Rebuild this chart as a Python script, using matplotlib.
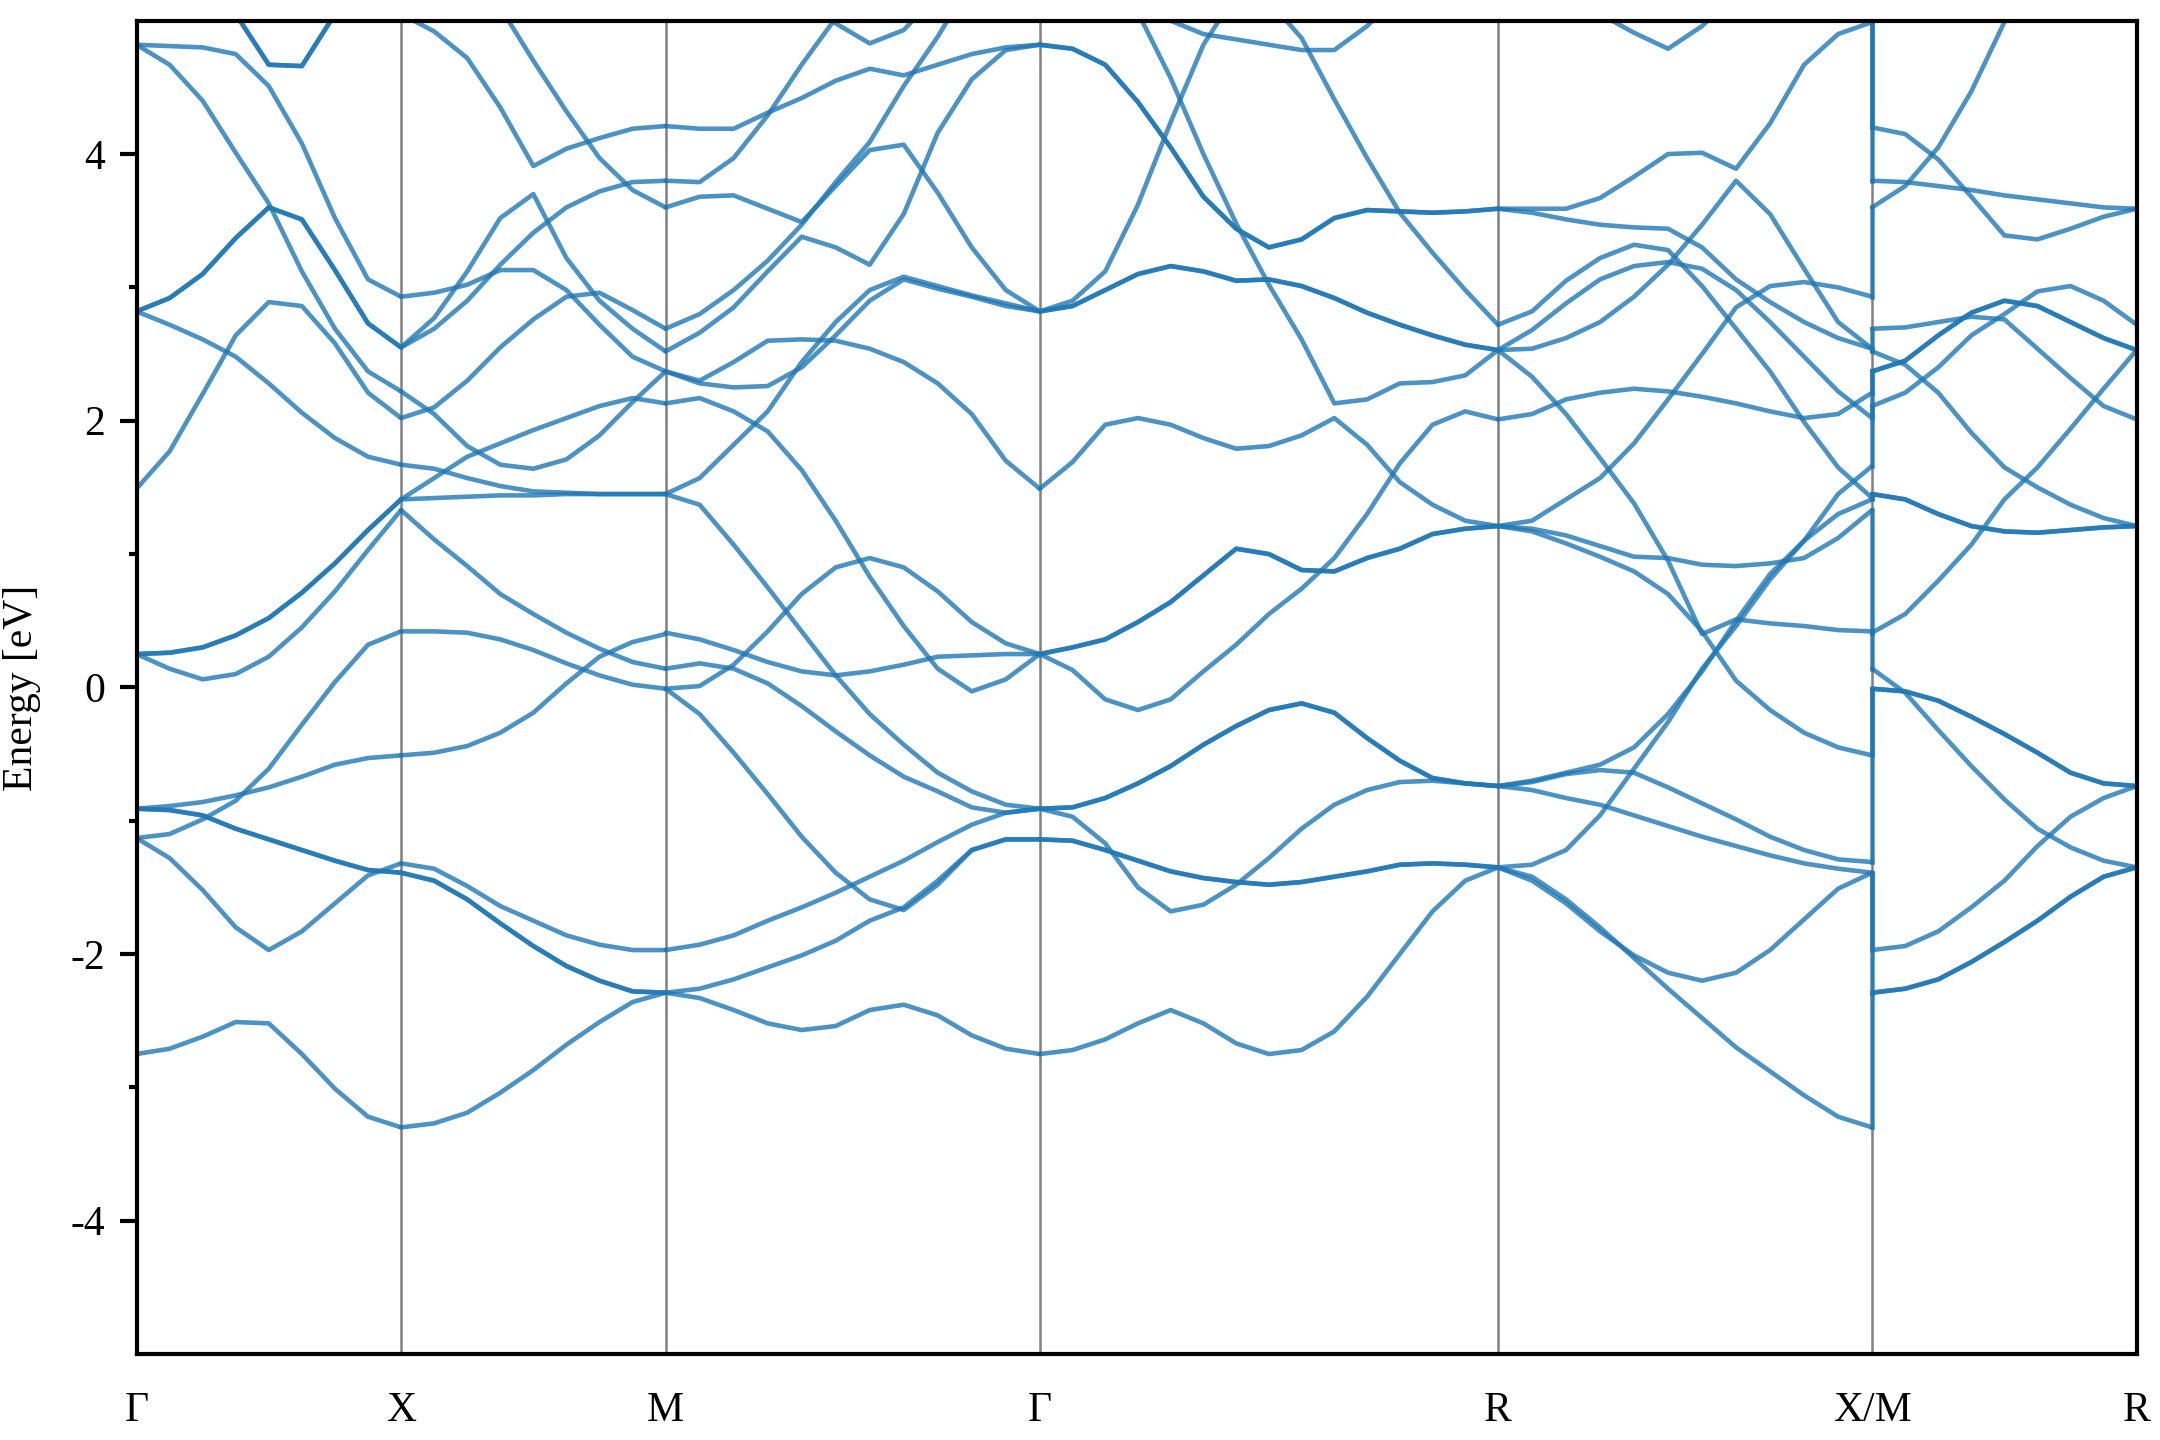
import numpy as np
import matplotlib
matplotlib.use("Agg")
import matplotlib.pyplot as plt

plt.rcParams['font.family'] = ['Liberation Serif', 'DejaVu Serif']
plt.rcParams['axes.unicode_minus'] = False

# high-symmetry path of the simple cubic zone, lengths in units of 2pi/a
kpoint_labels = ['Γ', 'X', 'M', 'Γ', 'R', 'X/M', 'R']
segment_lengths = [0.5, 0.5, 0.7071, 0.8660, 0.7071, 0.5]

# band energies (eV), one row per band, read at equally spaced k along each segment
bands_GX = [
    [-2.75, -2.71, -2.62, -2.51, -2.52, -2.75, -3.01, -3.22, -3.30],
    [-1.13, -1.28, -1.52, -1.80, -1.97, -1.83, -1.62, -1.41, -1.32],
    [-0.91, -0.92, -0.96, -1.06, -1.14, -1.22, -1.30, -1.37, -1.39],
    [-0.91, -0.89, -0.86, -0.81, -0.75, -0.67, -0.58, -0.53, -0.51],
    [-1.13, -1.10, -0.99, -0.85, -0.61, -0.28, 0.04, 0.32, 0.42],
    [0.25, 0.26, 0.30, 0.39, 0.52, 0.71, 0.93, 1.18, 1.41],
    [0.25, 0.14, 0.06, 0.10, 0.23, 0.45, 0.72, 1.03, 1.33],
    [1.49, 1.77, 2.20, 2.64, 2.89, 2.86, 2.58, 2.21, 2.02],
    [2.82, 2.72, 2.61, 2.48, 2.28, 2.06, 1.87, 1.73, 1.67],
    [2.82, 2.92, 3.10, 3.37, 3.60, 3.51, 3.13, 2.73, 2.55],
    [4.82, 4.67, 4.40, 4.01, 3.63, 3.12, 2.69, 2.37, 2.22],
    [4.82, 4.81, 4.80, 4.75, 4.51, 4.08, 3.52, 3.06, 2.93],
    [5.60, 5.40, 5.20, 5.05, 4.67, 4.66, 5.05, 5.40, 5.60],
]
mult_GX = [1, 1, 2, 1, 1, 2, 1, 1, 1, 2, 1, 1, 2]

bands_XM = [
    [-3.30, -3.27, -3.19, -3.04, -2.87, -2.68, -2.51, -2.36, -2.29],
    [-1.39, -1.45, -1.59, -1.77, -1.94, -2.09, -2.20, -2.28, -2.29],
    [-1.32, -1.36, -1.49, -1.64, -1.75, -1.86, -1.93, -1.97, -1.97],
    [-0.51, -0.49, -0.44, -0.34, -0.19, 0.03, 0.23, 0.34, 0.40],
    [0.42, 0.42, 0.41, 0.36, 0.28, 0.18, 0.09, 0.02, -0.01],
    [1.33, 1.11, 0.91, 0.70, 0.55, 0.41, 0.29, 0.19, 0.14],
    [1.41, 1.42, 1.43, 1.44, 1.44, 1.45, 1.45, 1.45, 1.45],
    [1.41, 1.57, 1.73, 1.83, 1.93, 2.02, 2.11, 2.17, 2.13],
    [1.67, 1.64, 1.57, 1.51, 1.47, 1.46, 1.45, 1.45, 1.45],
    [2.02, 2.10, 2.30, 2.55, 2.76, 2.93, 2.96, 2.83, 2.69],
    [2.22, 2.05, 1.81, 1.67, 1.64, 1.71, 1.89, 2.14, 2.37],
    [2.93, 2.96, 3.02, 3.13, 3.13, 2.98, 2.72, 2.48, 2.37],
    [2.55, 2.77, 3.12, 3.52, 3.70, 3.22, 2.90, 2.69, 2.52],
    [2.55, 2.69, 2.90, 3.17, 3.41, 3.60, 3.72, 3.79, 3.80],
    [5.05, 4.92, 4.72, 4.35, 3.91, 4.04, 4.12, 4.19, 4.21],
    [5.60, 5.50, 5.30, 5.10, 4.70, 4.32, 3.97, 3.73, 3.60],
]
mult_XM = [1, 2, 1, 1, 1, 1, 1, 1, 1, 1, 1, 1, 1, 1, 1, 1]

bands_MG = [
    [-2.29, -2.33, -2.42, -2.52, -2.57, -2.54, -2.42, -2.38, -2.46, -2.61, -2.71, -2.75],
    [-0.01, -0.20, -0.49, -0.80, -1.12, -1.39, -1.59, -1.67, -1.48, -1.22, -1.14, -1.14],
    [-2.29, -2.26, -2.19, -2.10, -2.01, -1.90, -1.75, -1.65, -1.45, -1.22, -1.14, -1.14],
    [-1.97, -1.93, -1.86, -1.75, -1.65, -1.54, -1.42, -1.30, -1.16, -1.03, -0.94, -0.91],
    [0.41, 0.36, 0.28, 0.19, 0.12, 0.09, 0.12, 0.17, 0.23, 0.24, 0.25, 0.25],
    [0.14, 0.18, 0.14, 0.03, -0.14, -0.33, -0.51, -0.67, -0.78, -0.90, -0.94, -0.91],
    [-0.01, 0.01, 0.17, 0.42, 0.70, 0.90, 0.97, 0.90, 0.72, 0.49, 0.33, 0.25],
    [1.45, 1.37, 1.07, 0.75, 0.42, 0.09, -0.20, -0.43, -0.64, -0.78, -0.88, -0.91],
    [2.13, 2.17, 2.07, 1.92, 1.63, 1.25, 0.83, 0.46, 0.14, -0.03, 0.06, 0.25],
    [1.45, 1.57, 1.82, 2.07, 2.44, 2.74, 2.98, 3.08, 3.01, 2.94, 2.88, 2.82],
    [2.37, 2.28, 2.25, 2.26, 2.40, 2.64, 2.90, 3.06, 2.99, 2.93, 2.86, 2.82],
    [2.37, 2.30, 2.44, 2.60, 2.61, 2.60, 2.54, 2.44, 2.28, 2.05, 1.70, 1.49],
    [4.21, 4.19, 4.19, 4.31, 4.42, 4.55, 4.64, 4.59, 4.67, 4.75, 4.80, 4.82],
    [3.80, 3.79, 3.97, 4.29, 4.67, 5.02, 5.30, 5.50, 5.70, 5.80, 5.90, 6.00],
    [5.60, 5.50, 5.40, 5.30, 5.15, 4.98, 4.83, 4.93, 5.20, 5.40, 5.60, 5.70],
    [3.60, 3.68, 3.69, 3.59, 3.49, 3.76, 4.03, 4.07, 3.71, 3.30, 2.98, 2.82],
    [2.69, 2.80, 2.98, 3.20, 3.47, 3.79, 4.09, 4.51, 4.88, 5.30, 5.60, 5.80],
    [2.52, 2.66, 2.85, 3.12, 3.38, 3.30, 3.17, 3.55, 4.16, 4.56, 4.78, 4.82],
]
mult_MG = [1] * 18

bands_GR = [
    [-2.75, -2.72, -2.64, -2.52, -2.42, -2.52, -2.67, -2.75, -2.72, -2.58, -2.32, -2.00, -1.68, -1.45, -1.35],
    [-1.14, -1.15, -1.22, -1.30, -1.38, -1.43, -1.46, -1.48, -1.46, -1.42, -1.38, -1.33, -1.32, -1.33, -1.35],
    [-0.91, -0.97, -1.17, -1.50, -1.68, -1.63, -1.48, -1.28, -1.06, -0.88, -0.77, -0.71, -0.70, -0.72, -0.74],
    [-0.91, -0.90, -0.83, -0.72, -0.59, -0.43, -0.29, -0.17, -0.12, -0.19, -0.38, -0.55, -0.68, -0.72, -0.74],
    [0.25, 0.13, -0.09, -0.17, -0.09, 0.12, 0.32, 0.55, 0.74, 0.97, 1.30, 1.68, 1.97, 2.07, 2.01],
    [0.25, 0.30, 0.36, 0.49, 0.64, 0.84, 1.04, 1.00, 0.88, 0.87, 0.97, 1.04, 1.15, 1.19, 1.21],
    [1.49, 1.69, 1.97, 2.02, 1.97, 1.87, 1.79, 1.81, 1.89, 2.02, 1.82, 1.54, 1.37, 1.25, 1.21],
    [2.82, 2.86, 2.98, 3.10, 3.16, 3.12, 3.05, 3.06, 3.01, 2.92, 2.81, 2.72, 2.64, 2.57, 2.53],
    [2.82, 2.90, 3.12, 3.62, 4.24, 4.82, 5.20, 5.50, 5.70, 5.80, 5.90, 6.00, 6.00, 6.00, 6.00],
    [4.82, 4.79, 4.67, 4.39, 4.05, 3.68, 3.44, 3.30, 3.36, 3.52, 3.58, 3.57, 3.56, 3.57, 3.59],
    [5.30, 5.20, 5.10, 5.05, 5.00, 4.90, 4.86, 4.82, 4.78, 4.78, 4.96, 5.20, 5.40, 5.60, 5.70],
    [5.60, 5.40, 5.20, 5.06, 4.57, 4.00, 3.48, 3.02, 2.61, 2.13, 2.16, 2.28, 2.29, 2.34, 2.53],
    [6.00, 5.90, 5.80, 5.70, 5.60, 5.50, 5.35, 5.15, 4.87, 4.41, 3.97, 3.56, 3.26, 2.98, 2.72],
]
mult_GR = [1, 2, 1, 2, 1, 2, 1, 2, 1, 2, 1, 1, 1]

bands_RX = [
    [-1.35, -1.42, -1.59, -1.80, -2.03, -2.26, -2.48, -2.70, -2.88, -3.06, -3.22, -3.30],
    [-1.35, -1.45, -1.62, -1.83, -2.01, -2.14, -2.20, -2.14, -1.97, -1.74, -1.51, -1.39],
    [-0.74, -0.71, -0.65, -0.62, -0.64, -0.75, -0.87, -0.99, -1.12, -1.22, -1.29, -1.31],
    [-0.74, -0.77, -0.83, -0.88, -0.96, -1.04, -1.12, -1.19, -1.26, -1.32, -1.36, -1.39],
    [-1.35, -1.33, -1.22, -0.96, -0.61, -0.26, 0.14, 0.46, 0.81, 1.10, 1.45, 1.66],
    [-0.74, -0.70, -0.64, -0.58, -0.45, -0.20, 0.12, 0.50, 0.85, 1.10, 1.30, 1.41],
    [1.21, 1.17, 1.08, 0.98, 0.87, 0.70, 0.42, 0.05, -0.17, -0.34, -0.45, -0.51],
    [2.53, 2.33, 2.05, 1.72, 1.38, 0.95, 0.40, 0.51, 0.48, 0.46, 0.43, 0.42],
    [1.21, 1.19, 1.14, 1.06, 0.98, 0.97, 0.92, 0.91, 0.93, 0.97, 1.12, 1.33],
    [1.21, 1.25, 1.41, 1.57, 1.83, 2.16, 2.50, 2.85, 3.01, 3.04, 3.00, 2.93],
    [2.01, 2.05, 2.16, 2.21, 2.24, 2.22, 2.18, 2.13, 2.07, 2.02, 2.05, 2.21],
    [2.53, 2.68, 2.88, 3.06, 3.16, 3.19, 3.14, 2.98, 2.74, 2.48, 2.22, 2.02],
    [2.53, 2.54, 2.62, 2.74, 2.93, 3.17, 3.47, 3.80, 3.55, 3.14, 2.74, 2.54],
    [2.72, 2.82, 3.05, 3.22, 3.32, 3.28, 3.01, 2.69, 2.37, 1.99, 1.65, 1.42],
    [3.59, 3.56, 3.51, 3.47, 3.45, 3.44, 3.30, 3.06, 2.89, 2.74, 2.62, 2.54],
    [3.59, 3.59, 3.59, 3.67, 3.83, 4.00, 4.01, 3.89, 4.23, 4.67, 4.90, 4.99],
    [5.60, 5.40, 5.20, 5.05, 4.91, 4.79, 4.96, 5.20, 5.40, 5.50, 5.60, 5.60],
]
mult_RX = [1] * 17

bands_MR = [
    [4.20, 4.15, 3.96, 3.68, 3.39, 3.36, 3.44, 3.53, 3.59],
    [3.80, 3.79, 3.76, 3.73, 3.69, 3.66, 3.63, 3.60, 3.59],
    [3.60, 3.76, 4.05, 4.47, 4.99, 5.30, 5.60, 5.80, 6.00],
    [2.69, 2.70, 2.74, 2.78, 2.76, 2.54, 2.32, 2.11, 2.01],
    [2.37, 2.45, 2.64, 2.81, 2.90, 2.86, 2.74, 2.62, 2.53],
    [2.11, 2.21, 2.40, 2.64, 2.80, 2.97, 3.01, 2.90, 2.72],
    [2.52, 2.42, 2.21, 1.91, 1.65, 1.50, 1.37, 1.27, 1.21],
    [1.45, 1.41, 1.30, 1.21, 1.17, 1.16, 1.18, 1.20, 1.21],
    [0.41, 0.55, 0.80, 1.07, 1.41, 1.65, 1.94, 2.24, 2.53],
    [0.14, -0.04, -0.32, -0.59, -0.84, -1.06, -1.20, -1.30, -1.35],
    [-0.01, -0.03, -0.10, -0.22, -0.35, -0.49, -0.64, -0.72, -0.74],
    [-1.97, -1.94, -1.83, -1.65, -1.45, -1.19, -0.97, -0.83, -0.74],
    [-2.29, -2.26, -2.19, -2.06, -1.91, -1.75, -1.57, -1.42, -1.35],
]
mult_MR = [1, 1, 1, 1, 2, 1, 1, 2, 1, 1, 2, 1, 2]

segments = [(bands_GX, mult_GX), (bands_XM, mult_XM), (bands_MG, mult_MG),
            (bands_GR, mult_GR), (bands_RX, mult_RX), (bands_MR, mult_MR)]

ticks = np.concatenate([[0], np.cumsum(segment_lengths)])
band_color = '#1f77b4'

fig, ax = plt.subplots(figsize=(7.2, 4.8), dpi=300)
fig.subplots_adjust(left=0.0632, right=0.9892, top=0.9856, bottom=0.0597)

for t in ticks[1:-1]:
    ax.axvline(t, color='grey', lw=0.6, zorder=1)

for i, (bands, mult) in enumerate(segments):
    for row, m in zip(bands, mult):
        k = np.linspace(ticks[i], ticks[i + 1], len(row))
        for _ in range(m):
            ax.plot(k, row, color=band_color, alpha=0.8, lw=1.1,
                    solid_joinstyle='round', solid_capstyle='round', zorder=2)

# the path jumps from X to M: join the bands with vertical pieces like a continuous plot
x_end = sorted(e for row, m in zip(bands_RX, mult_RX) for e in [row[-1]] * m)
m_start = sorted(e for row, m in zip(bands_MR, mult_MR) for e in [row[0]] * m)
for a, b in zip(x_end, m_start):
    ax.plot([ticks[5], ticks[5]], [a, b], color=band_color, alpha=0.8, lw=1.1, zorder=2)

ax.set_xlim(ticks[0], ticks[-1])
ax.set_ylim(-5, 5)
ax.set_xticks(ticks)
ax.set_xticklabels(kpoint_labels, fontsize=10)
ax.set_yticks([-4, -2, 0, 2, 4])
ax.set_yticks([-3, -1, 1, 3], minor=True)
ax.tick_params(axis='y', labelsize=10, width=1.0, length=4)
ax.tick_params(axis='y', which='minor', width=1.0, length=2)
ax.tick_params(axis='x', length=0, pad=9)
ax.set_ylabel('Energy [eV]', fontsize=10, labelpad=7)
for s in ax.spines.values():
    s.set_linewidth(1.0)

fig.savefig('out.png', dpi=300)
